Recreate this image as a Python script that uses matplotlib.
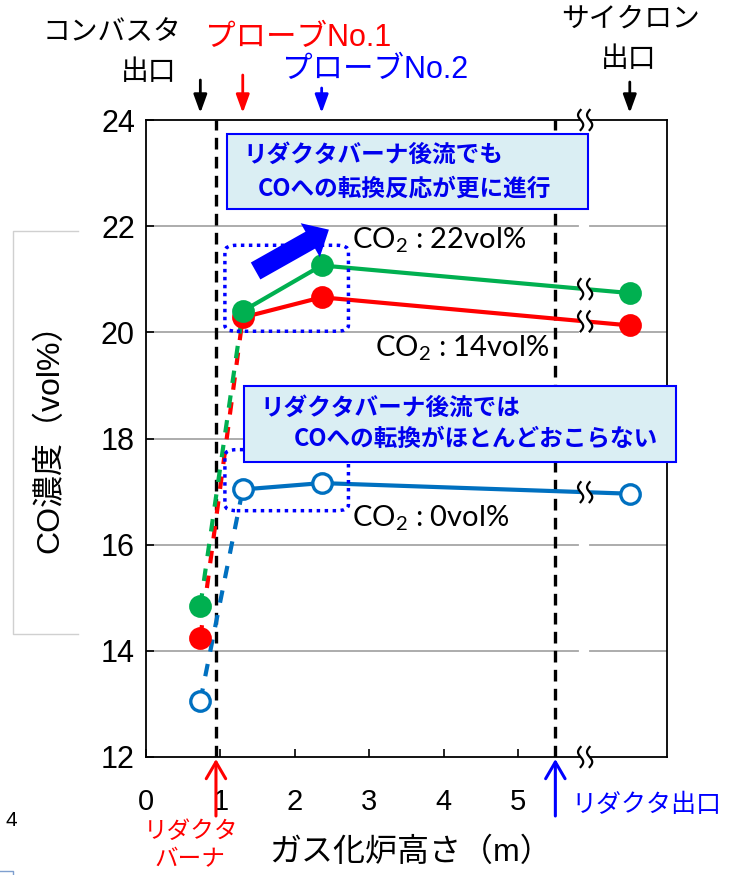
import numpy as np
import matplotlib
matplotlib.use("Agg")
import matplotlib.pyplot as plt
from matplotlib.patches import FancyBboxPatch, Rectangle, Polygon, FancyArrowPatch
from matplotlib.lines import Line2D

plt.rcParams['font.family'] = ['Liberation Sans', 'Noto Sans CJK JP']
plt.rcParams['mathtext.default'] = 'regular'

# data
x_pos = [0.73, 1.30, 2.36, 6.50]          # measuring points [m]
co2_22 = [14.85, 20.40, 21.26, 20.74]
co2_14 = [14.25, 20.28, 20.66, 20.13]
co2_0 = [13.06, 17.04, 17.16, 16.96]
reductor_burner_x = 0.94
reductor_outlet_x = 5.5
break_x = 5.9
x_ticks = [0, 1, 2, 3, 4, 5]
y_ticks = [12, 14, 16, 18, 20, 22, 24]

W, H = 738, 875
fig = plt.figure(figsize=(W / 100, H / 100), dpi=100)


def fx(px):
    return px / W


def fy(py):
    return 1 - py / H


ax = fig.add_axes([fx(146), fy(757), fx(667) - fx(146), fy(120) - fy(757)])
ax.set_xlim(0, 7)
ax.set_ylim(12, 24)

for s in ax.spines.values():
    s.set_linewidth(1.3)
ax.set_xticks(x_ticks)
ax.set_yticks(y_ticks)
ax.tick_params(axis='x', direction='in', length=6, width=1.2, labelsize=21, pad=22)
ax.tick_params(axis='y', direction='in', length=6, width=1.2, labelsize=22, pad=8)

# grid lines, interrupted at the axis break
for y in y_ticks[1:-1]:
    ax.plot([0, break_x - 0.09], [y, y], color='#a6a6a6', lw=1.3, zorder=1)
    ax.plot([break_x + 0.07, 7], [y, y], color='#a6a6a6', lw=1.3, zorder=1)

# reductor burner / outlet
for xv in (reductor_burner_x, reductor_outlet_x):
    ax.axvline(xv, color='black', lw=2.4, ls=(0, (3.5, 2.2)), zorder=2)

series = [
    (co2_0, '#0070C0', 'white'),
    (co2_14, '#FF0000', '#FF0000'),
    (co2_22, '#00B050', '#00B050'),
]
for vals, col, face in series:
    ax.plot(x_pos[:2], vals[:2], color=col, lw=3, ls=(0, (3, 3)), zorder=3)
    ax.plot(x_pos[1:], vals[1:], color=col, lw=3, zorder=3)
    ax.plot(x_pos, vals, ls='none', marker='o', ms=14, mfc=face, mec=col,
            mew=2.4, zorder=4)

inv = fig.transFigure.inverted()


def draw_break(x, y, h=10, w=2.6, gap=4.5):
    X, Y = ax.transData.transform((x, y))
    t = np.linspace(-1, 1, 40)
    curves = []
    for dx in (-gap, gap):
        xs = X + dx - w * np.sin(np.pi * t)
        ys = Y + h * t
        curves.append(inv.transform(np.column_stack([xs, ys])))
    poly = np.vstack([curves[0], curves[1][::-1]])
    fig.add_artist(Polygon(poly, closed=True, fc='white', ec='none',
                           transform=fig.transFigure, zorder=5))
    for c in curves:
        fig.add_artist(Line2D(c[:, 0], c[:, 1], color='black', lw=1.6,
                              transform=fig.transFigure, zorder=6))


for vals, col, face in series:
    draw_break(break_x, np.interp(break_x, x_pos[2:], vals[2:]))
draw_break(break_x, 24)
draw_break(break_x, 12)

# dotted boxes around the measuring points after the reductor
for y0, y1 in ((20.02, 21.64), (16.64, 17.79)):
    ax.add_patch(FancyBboxPatch((1.06, y0), 2.72 - 1.06, y1 - y0,
                                boxstyle='round,pad=0,rounding_size=0.16',
                                fc='none', ec='#0000FF', lw=2.5,
                                ls=(0, (1, 1.3)), zorder=5,
                                mutation_aspect=0.7))

# thick arrow
ax.add_patch(FancyArrowPatch((1.44, 21.13), (2.49, 21.96),
                             arrowstyle='simple,head_length=1.1,head_width=2.0,tail_width=1.0',
                             mutation_scale=14, color='#0000FF', lw=0, zorder=6))

# CO2 labels
lab_font = dict(family=['Lato', 'Noto Sans CJK JP'], fontsize=21, color='black')
fig.text(fx(352), fy(240), 'CO$_2$ : 22vol%', va='center', ha='left', **lab_font)
fig.text(fx(375), fy(348), 'CO$_2$ : 14vol%', va='center', ha='left', **lab_font)
fig.text(fx(352), fy(518), 'CO$_2$ : 0vol%', va='center', ha='left', **lab_font)

# callout boxes
box_font = dict(family=['Noto Sans CJK JP'], fontsize=17, weight='bold',
                color='#0000EE', va='center', ha='left', zorder=11)
for (x0, y0, x1, y1) in ((227, 134, 588, 209), (244, 386, 676, 462)):
    fig.add_artist(Rectangle((fx(x0), fy(y1)), fx(x1) - fx(x0), fy(y0) - fy(y1),
                             transform=fig.transFigure, fc='#DAEEF3',
                             ec='#0000FF', lw=1.5, zorder=10))
fig.text(fx(243), fy(155), 'リダクタバーナ後流でも', **box_font)
fig.text(fx(258), fy(189), 'COへの転換反応が更に進行', **box_font)
fig.text(fx(260), fy(408), 'リダクタバーナ後流では', **box_font)
fig.text(fx(294), fy(439), 'COへの転換がほとんどおこらない', **box_font)

# top annotations
top_font = dict(fontsize=20, ha='center', va='center')
fig.text(fx(112), fy(33), 'コンバスタ', color='black', **top_font)
fig.text(fx(149), fy(73), '出口', color='black', **top_font)
fig.text(fx(298), fy(38), 'プローブNo.1', color='#FF0000', fontsize=22, ha='center', va='center')
fig.text(fx(375), fy(70), 'プローブNo.2', color='#0000FF', fontsize=22, ha='center', va='center')
fig.text(fx(631), fy(20), 'サイクロン', color='black', **top_font)
fig.text(fx(629), fy(60), '出口', color='black', **top_font)

for xv, col, ystart in ((x_pos[0], 'black', 80), (x_pos[1], '#FF0000', 75),
                        (x_pos[2], '#0000FF', 88), (x_pos[3], 'black', 82)):
    ax.annotate('', xy=(xv, fy(113)), xycoords=('data', 'figure fraction'),
                xytext=(xv, fy(ystart)), textcoords=('data', 'figure fraction'),
                arrowprops=dict(arrowstyle='-|>,head_width=0.2,head_length=0.55',
                                color=col, lw=2.0, mutation_scale=20,
                                shrinkA=0, shrinkB=0))

# bottom annotations
for xv, col in ((reductor_burner_x, '#FF0000'), (reductor_outlet_x, '#0000FF')):
    ax.annotate('', xy=(xv, fy(759)), xycoords=('data', 'figure fraction'),
                xytext=(xv, fy(816)), textcoords=('data', 'figure fraction'),
                arrowprops=dict(arrowstyle='->,head_width=0.35,head_length=0.6',
                                color=col, lw=2.2, mutation_scale=20,
                                shrinkA=0, shrinkB=0))
fig.text(fx(191), fy(832), 'リダクタ', color='#FF0000', fontsize=17, ha='center', va='center')
fig.text(fx(190), fy(860), 'バーナ', color='#FF0000', fontsize=17, ha='center', va='center')
fig.text(fx(646), fy(805), 'リダクタ出口', color='#0000FF', fontsize=18, ha='center', va='center')

# axis titles
fig.text(fx(50), fy(430), 'CO濃度（vol%）', rotation=90, fontsize=23,
         ha='center', va='center')
fig.text(fx(411), fy(853), 'ガス化炉高さ（m）', fontsize=23, ha='center', va='center')

# leftovers at the figure edge
for xs, ys in (([78, 13, 13, 78], [231, 231, 634, 634]),):
    fig.add_artist(Line2D([fx(v) for v in xs], [fy(v) for v in ys],
                          color='#d0d0d0', lw=1.0, transform=fig.transFigure))
fig.add_artist(Line2D([fx(0), fx(13), fx(13)], [fy(871), fy(871), fy(875)],
                      color='#7f9fcf', lw=1.0, transform=fig.transFigure))
fig.text(fx(11), fy(820), '4', fontsize=15, ha='center', va='center')

fig.savefig('out.png', dpi=100)
